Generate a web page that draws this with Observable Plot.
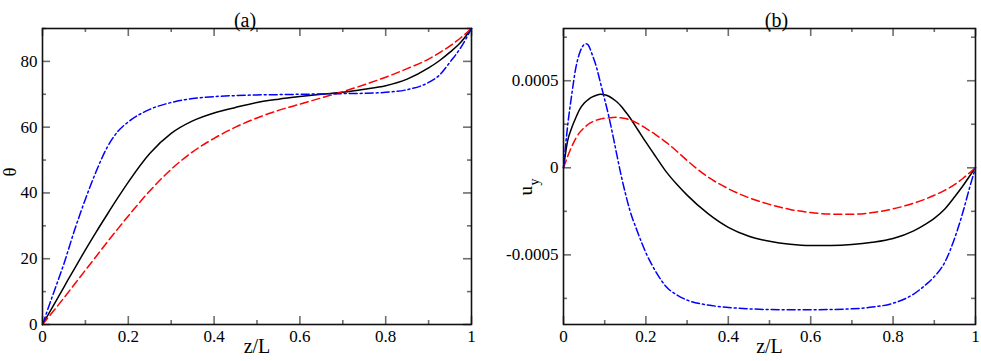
<!DOCTYPE html>
<html><head><meta charset="utf-8">
<script src="https://cdn.jsdelivr.net/npm/d3@7"></script>
<script src="https://cdn.jsdelivr.net/npm/@observablehq/plot@0.6"></script>
<style>
body{margin:0;background:#fff;}
#wrap{display:flex;width:981px;height:361px;overflow:hidden;}
#wrap svg{display:block;}
#wrap svg text{font-family:"Liberation Serif","Times New Roman",serif !important;}
</style></head><body><div id="wrap"></div>
<script>
// ---------- Panel (a): theta vs z/L ----------
const zA = [0,0.025,0.05,0.075,0.1,0.125,0.15,0.175,0.2,0.25,0.3,0.35,0.4,0.45,0.5,0.55,0.6,0.65,0.7,0.75,0.8,0.85,0.9,0.925,0.95,0.975,1];
const thetaBlack = [0,5.7,11.4,17.1,22.7,28.1,33.3,38.4,43.3,52,58.1,61.9,64.3,66,67.5,68.5,69.3,70,70.6,71.5,72.6,74.6,78,80.2,82.8,85.8,90];
const thetaRed   = [0,4,8.1,12.3,16.5,20.7,24.9,29,33,40.6,47.2,52.5,56.6,60,62.8,65.1,67,68.9,70.8,72.9,75.2,77.8,80.7,82.6,84.7,87.2,90];
const thetaBlue  = [0,9.3,18.5,28.8,38.1,46.5,53.7,58.6,61.6,65.4,67.5,68.7,69.3,69.6,69.8,69.9,70,70.1,70.2,70.3,70.6,71.4,73.6,75.8,79.8,84.2,90];

// ---------- Panel (b): u_y vs z/L (values in units of 1e-4) ----------
const zB = [0,0.01,0.02,0.03,0.04,0.05,0.055,0.06,0.07,0.08,0.09,0.1,0.11,0.12,0.13,0.14,0.15,0.16,0.18,0.2,0.225,0.25,0.275,0.3,0.35,0.4,0.45,0.5,0.55,0.6,0.65,0.7,0.75,0.8,0.85,0.88,0.9,0.925,0.95,0.97,0.985,1];
const uyBlack = [0,1.55,2.3,2.88,3.38,3.7,3.82,3.92,4.07,4.17,4.22,4.2,4.11,3.96,3.78,3.53,3.23,2.92,2.2,1.47,0.6,-0.25,-0.95,-1.57,-2.62,-3.42,-3.93,-4.22,-4.39,-4.46,-4.46,-4.41,-4.28,-4.06,-3.62,-3.22,-2.9,-2.38,-1.65,-1.02,-0.5,0];
const uyRed   = [0,0.65,1.22,1.7,2.05,2.3,2.4,2.5,2.64,2.74,2.8,2.85,2.87,2.89,2.9,2.87,2.83,2.76,2.55,2.27,1.88,1.45,0.95,0.42,-0.52,-1.2,-1.72,-2.1,-2.39,-2.57,-2.66,-2.67,-2.57,-2.36,-2.03,-1.78,-1.58,-1.3,-0.95,-0.6,-0.3,0];
const uyBlue  = [0,2.4,4.2,5.75,6.65,7.08,7.13,7.05,6.48,5.78,4.85,3.92,2.95,1.85,0.68,-0.45,-1.45,-2.35,-3.7,-4.88,-6.0,-6.85,-7.3,-7.6,-7.88,-8.02,-8.1,-8.14,-8.15,-8.15,-8.14,-8.1,-8.0,-7.78,-7.25,-6.7,-6.25,-5.45,-4.0,-2.5,-1.2,0];
const uyUnit = 1e-4;

// ---------- ticks & labels ----------
const xMajor = [0,0.2,0.4,0.6,0.8,1];
const xMinor = [0.1,0.3,0.5,0.7,0.9];
const yMajorA = [0,20,40,60,80];
const yMinorA = [10,30,50,70,90];
const yMajorB = [-0.0005,0,0.0005];
const yMinorB = [-0.00075,-0.00025,0.00025,0.00075];
const titles = ["(a)","(b)"];
const xLabel = "z/L";
const yLabelA = "θ";
const yLabelB = ["u","y"];

const FONT = "Liberation Serif";
const tickColor = "#6e6e6e";
const H = 361, MT = 28, MB = 37;
const FH = H - MT - MB;
const MAJ = 8, MIN = 4;

const lineStyles = [
  {key:"black", stroke:"#000000", dash:null},
  {key:"red",   stroke:"#ff0000", dash:"8,4"},
  {key:"blue",  stroke:"#0000ff", dash:"8,3,2,3"}
];

function tidy(zs, cols, unit=1) {
  const out = [];
  lineStyles.forEach((s, k) => zs.forEach((z, i) => out.push({z, v: cols[k][i]*unit, s: s.key})));
  return out;
}

// inward ticks on all four sides (lengths in pixels converted to data units)
function frameTicks(fw, yDom, yMaj, yMin) {
  const [y0, y1] = yDom;
  const ky = (y1 - y0) / FH, kx = 1 / fw;
  const o = {stroke: tickColor, strokeWidth: 1.6};
  const tx = (vals, len) => [
    Plot.ruleX(vals, {x: d=>d, y1: y0, y2: y0 + len*ky, ...o}),
    Plot.ruleX(vals, {x: d=>d, y1: y1 - len*ky, y2: y1, ...o})
  ];
  const ty = (vals, len) => [
    Plot.ruleY(vals, {y: d=>d, x1: 0, x2: len*kx, ...o}),
    Plot.ruleY(vals, {y: d=>d, x1: 1 - len*kx, x2: 1, ...o})
  ];
  return [...tx(xMajor, MAJ), ...tx(xMinor, MIN), ...ty(yMaj, MAJ), ...ty(yMin, MIN)];
}

function lines(data) {
  return lineStyles.map(s => Plot.line(data.filter(d => d.s === s.key), {
    x: "z", y: "v", stroke: s.stroke, strokeWidth: 1.5, strokeDasharray: s.dash, curve: "monotone-x"
  }));
}

const axisOpts = {tickSize: 0, tickPadding: 5, label: null, tickFormat: d => String(d), fontSize: 17, fontFamily: FONT, fill: "black"};
const textOpts = {fontFamily: FONT, fill: "black"};

// Panel (a)
const WA = 490, MLA = 42, MRA = 19;
const domA = [0, 90];
const dataA = tidy(zA, [thetaBlack, thetaRed, thetaBlue]);
const plotA = Plot.plot({
  width: WA, height: H, marginLeft: MLA, marginRight: MRA, marginTop: MT, marginBottom: MB,
  x: {domain: [0,1]}, y: {domain: domA},
  style: {fontFamily: FONT, fontSize: "17px", background: "white", color: "black", overflow: "visible"},
  marks: [
    ...frameTicks(WA - MLA - MRA, domA, yMajorA, yMinorA),
    ...lines(dataA),
    Plot.frame({stroke: "#111", strokeWidth: 1.6}),
    Plot.axisX(xMajor, axisOpts),
    Plot.axisY(yMajorA, axisOpts),
    Plot.text([titles[0]], {frameAnchor: "top", dy: -16, dx: -12, fontSize: 20, ...textOpts}),
    Plot.text([xLabel], {frameAnchor: "bottom", dy: 28, fontSize: 20, ...textOpts}),
    Plot.text([yLabelA], {frameAnchor: "left", dx: -33, rotate: -90, fontSize: 19, ...textOpts})
  ]
});

// Panel (b)
const WB = 491, MLB = 73, MRB = 6;
const domB = [-0.0009, 0.0008];
const dataB = tidy(zB, [uyBlack, uyRed, uyBlue], uyUnit);
const plotB = Plot.plot({
  width: WB, height: H, marginLeft: MLB, marginRight: MRB, marginTop: MT, marginBottom: MB,
  x: {domain: [0,1]}, y: {domain: domB},
  style: {fontFamily: FONT, fontSize: "17px", background: "white", color: "black", overflow: "visible"},
  marks: [
    ...frameTicks(WB - MLB - MRB, domB, yMajorB, yMinorB),
    ...lines(dataB),
    Plot.frame({stroke: "#111", strokeWidth: 1.6}),
    Plot.axisX(xMajor, axisOpts),
    Plot.axisY(yMajorB, axisOpts),
    Plot.text([titles[1]], {frameAnchor: "top", dy: -16, dx: 7, fontSize: 20, ...textOpts}),
    Plot.text([xLabel], {frameAnchor: "bottom", dy: 28, fontSize: 20, ...textOpts}),
    Plot.text([yLabelB[0]], {frameAnchor: "left", dx: -38, dy: 19, rotate: -90, fontSize: 19, ...textOpts}),
    Plot.text([yLabelB[1]], {frameAnchor: "left", dx: -29, dy: 9, rotate: -90, fontSize: 14, ...textOpts})
  ]
});

const wrap = document.getElementById("wrap");
wrap.appendChild(plotA);
wrap.appendChild(plotB);
</script>
</body></html>
